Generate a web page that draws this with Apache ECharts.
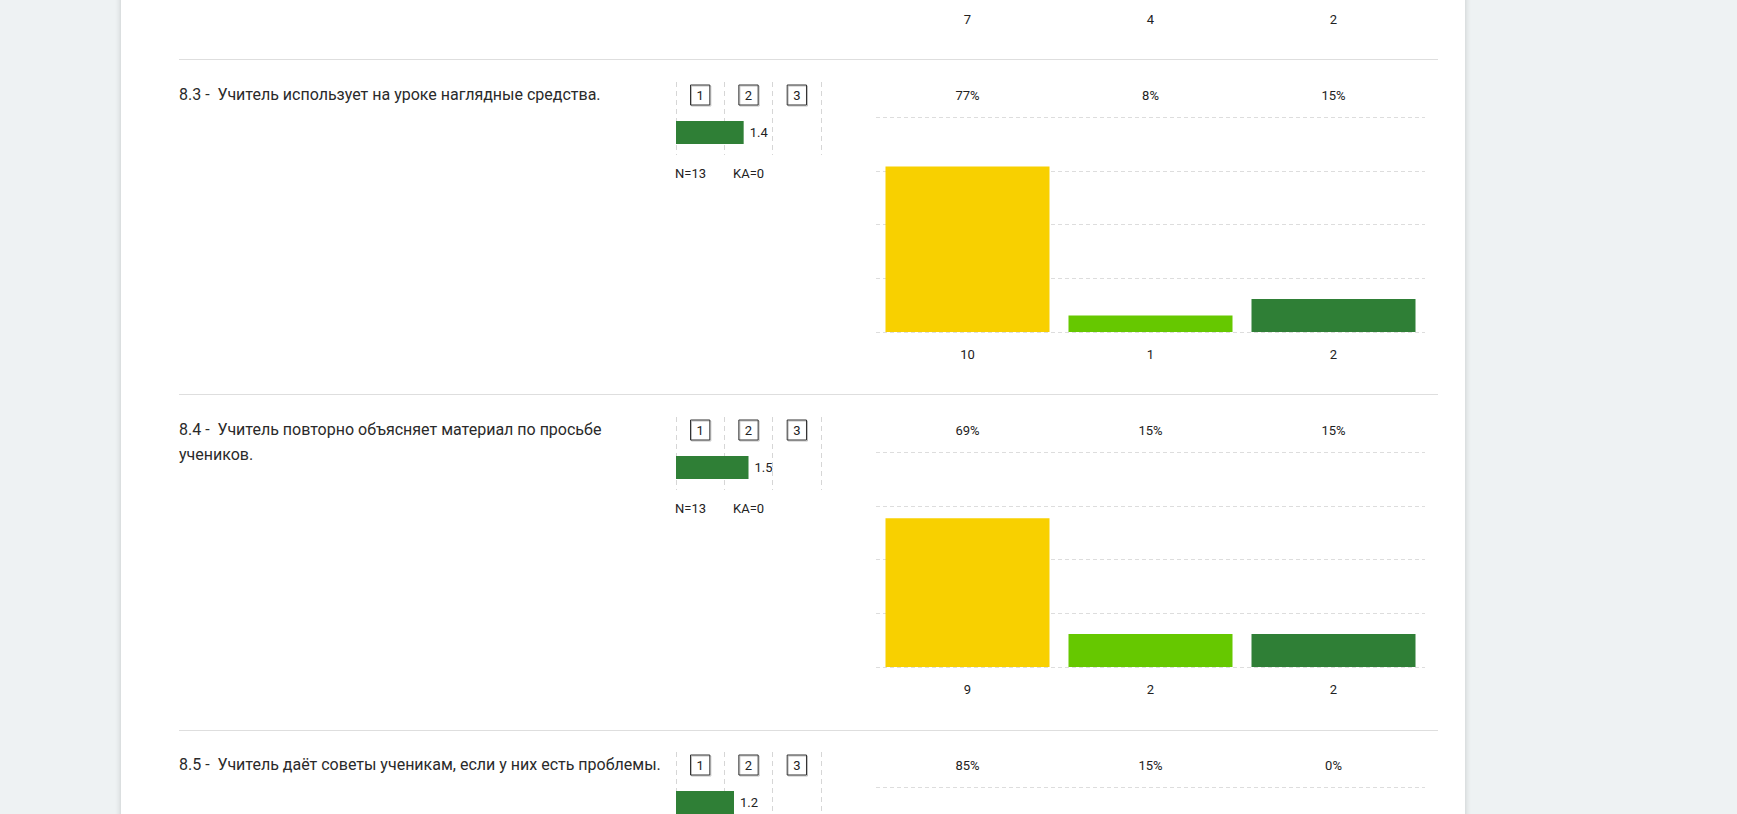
<!DOCTYPE html>
<html>
<head>
<meta charset="utf-8">
<script src="https://cdn.jsdelivr.net/npm/echarts@6/dist/echarts.min.js"></script>
<style>
  html, body { margin: 0; padding: 0; background: #eef2f3; overflow: hidden; }
  #panel { position: absolute; left: 121px; top: -10px; width: 1344px; height: 840px;
           background: #fff; box-shadow: 0 0 6px rgba(0,0,0,0.18); }
  /* the chart canvas is taller than the window so the blocks cut by the top and
     bottom edges keep their full size */
  #main { position: absolute; left: 0; top: -400px; width: 1737px; height: 1600px; }
</style>
</head>
<body>
<div id="panel"></div>
<div id="main"></div>
<script>
// answer options 1..3, one entry per question block (8.2 is only partly visible at the top)
var options = ['1', '2', '3'];
var questions = [
    '',
    '8.3 -  Учитель использует на уроке наглядные средства.',
    '8.4 -  Учитель повторно объясняет материал по просьбе\nучеников.',
    '8.5 -  Учитель даёт советы ученикам, если у них есть проблемы.'
];
var counts = [
    [7, 4, 2],
    [10, 1, 2],
    [9, 2, 2],
    [11, 2, 0]
];
var percents = [
    ['54%', '31%', '15%'],
    ['77%', '8%', '15%'],
    ['69%', '15%', '15%'],
    ['85%', '15%', '0%']
];
var means = [1.6, 1.4, 1.5, 1.2];
var nValues = [13, 13, 13, 13];
var kaValues = [0, 0, 0, 0];
var barColors = ['#f8d000', '#66c800', '#2f7f36'];

var BLOCK_H = 335;
var SHIFT = 400; // #main starts 400px above the window
var myChart = echarts.init(document.getElementById('main'), null, {renderer: 'svg'});

var grid = [], xAxis = [], yAxis = [], series = [], graphic = [];
var labelStyle = {color: '#222', fontSize: 13, fontFamily: 'Roboto'};

// separators between the questions
[59, 394, 730].forEach(function (y) {
    graphic.push({
        type: 'line', silent: true,
        shape: {x1: 179, y1: y + SHIFT + 0.5, x2: 1438, y2: y + SHIFT + 0.5},
        style: {stroke: '#dedede', lineWidth: 1}
    });
});

for (var k = 0; k < counts.length; k++) {
    var off = (k - 1) * BLOCK_H + SHIFT;

    // main bar chart
    var g = grid.length;
    grid.push({left: 876, width: 549, top: 117 + off, height: 215});
    xAxis.push({
        gridIndex: g, type: 'category', data: options, position: 'bottom',
        axisLine: {show: false}, axisTick: {show: false},
        axisLabel: Object.assign({margin: 16, formatter: (function (c) {
            return function (v, i) { return c[i]; };
        })(counts[k])}, labelStyle)
    });
    xAxis.push({
        gridIndex: g, type: 'category', data: percents[k], position: 'top',
        axisLine: {show: false}, axisTick: {show: false},
        axisLabel: Object.assign({margin: 15}, labelStyle)
    });
    yAxis.push({
        gridIndex: g, type: 'value', min: 0, max: nValues[k], interval: nValues[k] / 4,
        axisLine: {show: false}, axisTick: {show: false}, axisLabel: {show: false},
        splitLine: {lineStyle: {color: '#dddddd', type: [4, 3]}}
    });
    series.push({
        type: 'bar', xAxisIndex: xAxis.length - 2, yAxisIndex: yAxis.length - 1,
        barWidth: 164,
        data: counts[k].map(function (v, i) {
            return {value: v, itemStyle: {color: barColors[i]}};
        })
    });

    if (k === 0) continue;

    // mean scale 0..3 with boxed option numbers
    var ga = grid.length;
    grid.push({left: 676, width: 145, top: 82 + off, height: 73});
    xAxis.push({
        gridIndex: ga, type: 'value', min: 0, max: 3, interval: 1,
        axisLine: {show: false}, axisTick: {show: false}, axisLabel: {show: false},
        splitLine: {show: true, lineStyle: {color: '#d6d6d6', type: [5, 4]}}
    });
    xAxis.push({
        gridIndex: ga, type: 'category', data: options, position: 'top',
        axisLine: {show: false}, axisTick: {show: false},
        axisLabel: {
            inside: true, margin: 3, color: '#222', fontSize: 13, fontFamily: 'Roboto',
            borderColor: '#333', borderWidth: 1, padding: [4, 6, 3, 6],
            shadowColor: 'rgba(0,0,0,0.25)', shadowOffsetX: 1, shadowOffsetY: 1, shadowBlur: 1
        }
    });
    yAxis.push({gridIndex: ga, type: 'category', data: [''], show: false});

    var gb = grid.length;
    grid.push({left: 676, width: 145, top: 121 + off, height: 23});
    xAxis.push({gridIndex: gb, type: 'value', min: 0, max: 3, show: false});
    yAxis.push({gridIndex: gb, type: 'category', data: [''], show: false});
    series.push({
        type: 'bar', xAxisIndex: xAxis.length - 1, yAxisIndex: yAxis.length - 1,
        barWidth: 23, itemStyle: {color: '#2f7f36'},
        label: Object.assign({show: true, position: 'right', distance: 6}, labelStyle),
        data: [means[k]]
    });

    graphic.push({
        type: 'text', left: 179, top: 82 + off, silent: true,
        style: {text: questions[k], fill: '#2a2a2a', font: '16px Roboto', lineHeight: 25}
    });
    graphic.push({
        type: 'text', left: 675, top: 167 + off, silent: true,
        style: {text: 'N=' + nValues[k], fill: '#222', font: '13px Roboto'}
    });
    graphic.push({
        type: 'text', left: 733, top: 167 + off, silent: true,
        style: {text: 'KA=' + kaValues[k], fill: '#222', font: '13px Roboto'}
    });
}

myChart.setOption({
    animation: false,
    textStyle: {fontFamily: 'Roboto'},
    grid: grid,
    xAxis: xAxis,
    yAxis: yAxis,
    series: series,
    graphic: graphic
});
</script>
</body>
</html>
